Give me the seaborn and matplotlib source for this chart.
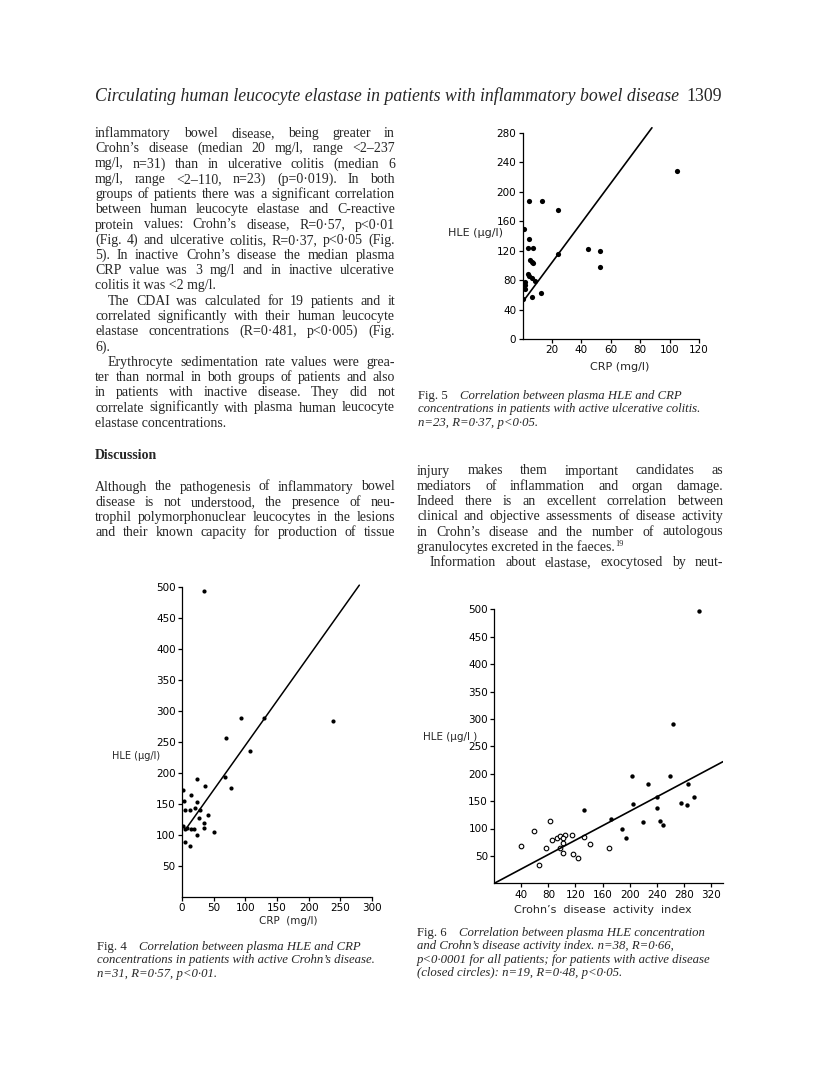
import matplotlib
matplotlib.use('Agg')
import matplotlib.pyplot as plt
import matplotlib.transforms as mtransforms
import pandas as pd
import seaborn as sns

# Fig. 4 - active Crohn's disease: CRP (mg/l) vs HLE (ug/l)
crp_cd = [35, 93, 130, 238, 70, 107, 68, 78, 1, 3, 14.5, 24, 36.5, 23, 4, 13.4,
          21, 29, 26.3, 41, 34, 34, 1.6, 4.8, 7.5, 14.5, 19, 23, 51, 5.4, 13.4]
hle_cd = [493, 289, 289, 284, 256, 235, 193, 176, 172, 155, 164, 190, 179, 154, 140, 140,
          144, 140, 128, 132, 119, 112, 114, 110, 112, 110, 109, 100, 105, 88, 82]
fit4_x = [7, 280]
fit4_y = [111, 503]

# Fig. 5 - active ulcerative colitis: CRP vs HLE
crp_uc = [105, 4.4, 13.4, 23.8, 1.2, 4.4, 3.5, 7.4, 5.2, 6.5, 7.2, 24, 44.8, 52.7, 52.5,
          3.6, 4.6, 6.2, 8.4, 1.7, 2.0, 1.5, 6.3, 12.7, 0.2]
hle_uc = [228, 188, 188, 175, 149, 136, 124, 124, 108, 104, 103, 115, 122, 120, 98,
          88, 85, 83, 79, 77, 73, 68, 57, 63, 54]
fit5_x = [0, 88]
fit5_y = [50, 287]

# Fig. 6 - Crohn's disease activity index vs HLE (closed = active, open = inactive)
cdai_active = [302.5, 263.5, 204, 227, 259, 285.7, 132, 204.4, 240.4, 241, 275.9, 285.2,
               295.6, 173, 188.7, 194, 219.2, 244.8, 248.8]
hle_active = [496, 290, 196, 182, 195, 181, 133, 145, 157, 138, 147, 142,
              158, 117, 100, 83, 111, 114, 106]
cdai_inactive = [40, 59, 82, 66, 76, 86, 92, 97, 104, 102, 102, 97, 102, 115, 117, 123,
                 132, 141, 170]
hle_inactive = [68, 95, 114, 34, 64, 79, 83, 86, 89, 83, 74, 64, 55, 88, 53, 47,
                84, 71, 65]
fit6_x = [0, 338]
fit6_y = [0, 222]

# page text
header = "Circulating human leucocyte elastase in patients with inflammatory bowel disease"
page_no = "1309"
par1 = ["inflammatory bowel disease, being greater in",
        "Crohn’s disease (median 20 mg/l, range <2–237",
        "mg/l, n=31) than in ulcerative colitis (median 6",
        "mg/l, range <2–110, n=23) (p=0·019). In both",
        "groups of patients there was a significant correlation",
        "between human leucocyte elastase and C-reactive",
        "protein values: Crohn’s disease, R=0·57, p<0·01",
        "(Fig. 4) and ulcerative colitis, R=0·37, p<0·05 (Fig.",
        "5). In inactive Crohn’s disease the median plasma",
        "CRP value was 3 mg/l and in inactive ulcerative",
        "colitis it was <2 mg/l."]
par2 = ["The CDAI was calculated for 19 patients and it",
        "correlated significantly with their human leucocyte",
        "elastase concentrations (R=0·481, p<0·005) (Fig.",
        "6)."]
par3 = ["Erythrocyte sedimentation rate values were grea-",
        "ter than normal in both groups of patients and also",
        "in patients with inactive disease. They did not",
        "correlate significantly with plasma human leucocyte",
        "elastase concentrations."]
par4a = ["Although the pathogenesis of inflammatory bowel",
         "disease is not understood, the presence of neu-",
         "trophil polymorphonuclear leucocytes in the lesions",
         "and their known capacity for production of tissue"]
par4b = ["injury makes them important candidates as",
         "mediators of inflammation and organ damage.",
         "Indeed there is an excellent correlation between",
         "clinical and objective assessments of disease activity",
         "in Crohn’s disease and the number of autologous",
         "granulocytes excreted in the faeces."]
par5 = ["Information about elastase, exocytosed by neut-"]
cap4 = ["Correlation between plasma HLE and CRP",
        "concentrations in patients with active Crohn’s disease.",
        "n=31, R=0·57, p<0·01."]
cap5 = ["Correlation between plasma HLE and CRP",
        "concentrations in patients with active ulcerative colitis.",
        "n=23, R=0·37, p<0·05."]
cap6 = ["Correlation between plasma HLE concentration",
        "and Crohn’s disease activity index. n=38, R=0·66,",
        "p<0·0001 for all patients; for patients with active disease",
        "(closed circles): n=19, R=0·48, p<0·05."]

W, H = 816, 1074
SERIF = 'Liberation Serif'
BODY = 10.0
LEAD = 15.25

sns.set_style('ticks')
plt.rcParams['font.family'] = ['DejaVu Sans']
plt.rcParams['axes.linewidth'] = 0.9
plt.rcParams['xtick.major.width'] = 0.9
plt.rcParams['ytick.major.width'] = 0.9
plt.rcParams['xtick.major.size'] = 3
plt.rcParams['ytick.major.size'] = 3

fig = plt.figure(figsize=(W / 100, H / 100), dpi=100)
fig.patch.set_facecolor('white')
ident = mtransforms.IdentityTransform()
renderer = fig.canvas.get_renderer()


def page_axes(left, top, right, bottom):
    return fig.add_axes([left / W, 1 - bottom / H, (right - left) / W, (bottom - top) / H])


def text_at(x, y, s, size=BODY, **kw):
    kw.setdefault('family', SERIF)
    return fig.text(x, H - y, s, fontsize=size, transform=ident, va='baseline', **kw)


def width_of(t):
    return t.get_window_extent(renderer).width


def justify(x0, x1, y, line, size=BODY, min_gap=2.2):
    # spread the words of one line across the column
    words = line.split()
    arts = [text_at(0, y, w, size) for w in words]
    widths = [width_of(a) for a in arts]
    room = x1 - x0 - min_gap * (len(words) - 1)
    if sum(widths) > room:
        k = room / sum(widths)
        for a in arts:
            a.set_fontsize(size * k)
        widths = [width_of(a) for a in arts]
    gap = (x1 - x0 - sum(widths)) / max(len(words) - 1, 1)
    x = x0
    for a, w in zip(arts, widths):
        a.set_x(x)
        x += w + gap


def paragraph(x0, x1, y, lines, indent=0, last_full=False):
    last = None
    for i, line in enumerate(lines):
        ind = indent if i == 0 else 0
        if i == len(lines) - 1 and not last_full:
            last = text_at(x0 + ind, y, line)
        else:
            justify(x0 + ind, x1, y, line)
        y += LEAD
    return y, last


def caption(x, y, label, lines, size=9.2, lead=13.4):
    text_at(x, y, label, size)
    for i, line in enumerate(lines):
        text_at(x + 42 if i == 0 else x, y + i * lead, line, size, style='italic')


def style_axes(ax, ylim, xlim, yticks, xticks, ybound):
    ax.set_xlim(*xlim)
    ax.set_ylim(*ylim)
    ax.set_xticks(xticks)
    ax.set_yticks(yticks)
    ax.tick_params(labelsize=7.5, pad=1.5, color='black', labelcolor='black')
    sns.despine(ax=ax)
    ax.spines['left'].set_bounds(*ybound)
    ax.spines['left'].set_color('black')
    ax.spines['bottom'].set_color('black')
    ax.set_xlabel('')
    ax.set_ylabel('')
    ax.set_facecolor('none')


# ---- page header ----
t = text_at(95, 101, header, 10, style='italic')
t.set_fontsize(10 * 585 / width_of(t))
text_at(722, 101, page_no, t.get_fontsize(), ha='right')

# ---- left column ----
L0, L1 = 95, 395
y, _ = paragraph(L0, L1, 137, par1)
y, _ = paragraph(L0, L1, y, par2, indent=13)
y, _ = paragraph(L0, L1, y, par3, indent=13)
text_at(L0, 459, "Discussion", BODY, weight='bold')
paragraph(L0, L1, 490.5, par4a, last_full=True)

# ---- right column ----
R0, R1 = 417, 723
y, last = paragraph(R0, R1, 474.5, par4b)
text_at(R0 + width_of(last) + 1, y - LEAD - 5, "19", 6)
paragraph(R0, R1, y, par5, indent=13, last_full=True)

# ---- Fig. 5 ----
ax5 = page_axes(522.5, 339 - 290 * 0.736, 699, 339)
sns.scatterplot(x=crp_uc, y=hle_uc, color='black', s=14, linewidth=0, ax=ax5)
sns.lineplot(x=fit5_x, y=fit5_y, color='black', lw=1.2, estimator=None, ax=ax5)
style_axes(ax5, (0, 290), (0, 120), range(0, 281, 40), range(20, 121, 20), (0, 280))
text_at(503, 236, "HLE (μg/l)", 8, family='DejaVu Sans', ha='right')
text_at(620, 370, "CRP (mg/l)", 8, family='DejaVu Sans', ha='center')
caption(418, 399, "Fig. 5", cap5)

# ---- Fig. 4 ----
ax4 = page_axes(182, 897 - 505 * 0.62, 372, 897)
sns.scatterplot(x=crp_cd, y=hle_cd, color='black', s=9, linewidth=0, ax=ax4)
sns.lineplot(x=fit4_x, y=fit4_y, color='black', lw=1.1, estimator=None, ax=ax4)
style_axes(ax4, (0, 505), (0, 300), range(50, 501, 50), range(0, 301, 50), (0, 500))
text_at(160, 759, "HLE (μg/l)", 7, family='DejaVu Sans', ha='right')
text_at(288, 924, "CRP  (mg/l)", 7.5, family='DejaVu Sans', ha='center')
caption(97, 950, "Fig. 4", cap4)

# ---- Fig. 6 ----
ax6 = page_axes(494.3, 883.3 - 505 * 0.548, 723, 883.3)
sns.scatterplot(x=cdai_inactive, y=hle_inactive, color='white', edgecolor='black',
                s=11, linewidth=0.8, ax=ax6)
sns.scatterplot(x=cdai_active, y=hle_active, color='black', s=10, linewidth=0, ax=ax6)
sns.lineplot(x=fit6_x, y=fit6_y, color='black', lw=1.2, estimator=None, ax=ax6)
style_axes(ax6, (0, 505), (0, 338), range(50, 501, 50), range(40, 321, 40), (0, 500))
text_at(477, 740, "HLE (μg/l )", 7.5, family='DejaVu Sans', ha='right')
text_at(603, 913, "Crohn’s  disease  activity  index", 8, family='DejaVu Sans', ha='center')
caption(417, 936, "Fig. 6", cap6)

fig.savefig('out.png', dpi=100, facecolor='white')
